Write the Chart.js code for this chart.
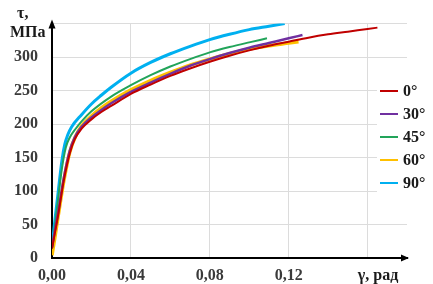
<!DOCTYPE html>
<html><head><meta charset="utf-8">
<script src="https://cdn.jsdelivr.net/npm/chart.js@4/dist/chart.umd.min.js"></script>
<style>html,body{margin:0;padding:0;background:#fff;}canvas{display:block;}</style>
</head><body>
<canvas id="c" width="433" height="284"></canvas>
<script>
// ---- data ----
const seriesLabels = ['0°', '30°', '45°', '60°', '90°'];
const seriesColors = ['#C00000', '#7030A0', '#22A45A', '#FFC000', '#00B0F0'];

const gamma0 = [0, 0.001, 0.003, 0.006, 0.009, 0.0115, 0.015, 0.020, 0.025, 0.030, 0.040, 0.050, 0.060, 0.070, 0.080, 0.090, 0.100, 0.110, 0.120, 0.130, 0.140, 0.150, 0.160, 0.165];
const tau0   = [14, 30, 62, 116, 156, 177, 193, 207, 218, 227, 245, 259, 272, 283, 293, 302, 310, 317, 323, 329, 334, 338, 342, 344];

const gamma30 = [0, 0.001, 0.003, 0.006, 0.009, 0.0115, 0.015, 0.020, 0.025, 0.030, 0.040, 0.050, 0.060, 0.070, 0.080, 0.090, 0.100, 0.110, 0.120, 0.127];
const tau30   = [16, 33, 66, 120, 160, 180, 196, 210, 221, 231, 248, 262, 275, 287, 297, 306, 314, 321, 328, 333];

const gamma45 = [0, 0.001, 0.003, 0.005, 0.007, 0.009, 0.012, 0.015, 0.020, 0.030, 0.040, 0.050, 0.060, 0.070, 0.080, 0.090, 0.100, 0.109];
const tau45   = [14, 36, 86, 133, 165, 180, 193, 204, 219, 241, 258, 273, 286, 297, 307, 315, 322, 328];

const gamma60 = [0, 0.001, 0.003, 0.006, 0.009, 0.012, 0.015, 0.020, 0.025, 0.030, 0.040, 0.050, 0.060, 0.070, 0.080, 0.090, 0.100, 0.110, 0.120, 0.125];
const tau60   = [4, 22, 60, 115, 158, 182, 197, 212, 224, 234, 251, 265, 277, 288, 297, 305, 312, 317, 321, 323];

const gamma90 = [0, 0.001, 0.003, 0.005, 0.0065, 0.008, 0.010, 0.015, 0.020, 0.025, 0.030, 0.040, 0.050, 0.060, 0.070, 0.080, 0.090, 0.100, 0.110, 0.118];
const tau90   = [14, 44, 95, 145, 170, 184, 196, 214, 230, 243, 255, 276, 292, 305, 316, 326, 334, 341, 346, 350];

const xTickValues = [0, 0.04, 0.08, 0.12, 0.16];
const xTickLabels = ['0,00', '0,04', '0,08', '0,12', ''];
const yTickValues = [0, 50, 100, 150, 200, 250, 300, 350];
const yTickLabels = ['0', '50', '100', '150', '200', '250', '300', ''];
const xAxisTitle = 'γ, рад';
const yAxisTitle = ['τ,', 'МПа'];

// ---- build ----
const gammas = [gamma0, gamma30, gamma45, gamma60, gamma90];
const taus = [tau0, tau30, tau45, tau60, tau90];
const widths = [2, 2.5, 2, 3.5, 3];

const datasets = seriesLabels.map((lab, i) => ({
  label: lab,
  data: gammas[i].map((g, k) => ({x: g, y: taus[i][k]})),
  borderColor: seriesColors[i],
  backgroundColor: seriesColors[i],
  borderWidth: widths[i],
  pointRadius: 0,
  fill: false,
  cubicInterpolationMode: 'monotone'
}));

const FONT = '"Liberation Serif", "Times New Roman", serif';

const extras = {
  id: 'extras',
  afterDraw(chart) {
    const ctx = chart.ctx;
    const a = chart.chartArea;
    ctx.save();
    // arrows
    ctx.fillStyle = '#000';
    ctx.beginPath();
    ctx.moveTo(a.left, a.top - 4);
    ctx.lineTo(a.left - 3.5, a.top + 5);
    ctx.lineTo(a.left + 3.5, a.top + 5);
    ctx.closePath(); ctx.fill();
    ctx.beginPath();
    ctx.moveTo(a.right + 2, a.bottom);
    ctx.lineTo(a.right - 6, a.bottom - 3.5);
    ctx.lineTo(a.right - 6, a.bottom + 3.5);
    ctx.closePath(); ctx.fill();
    // axis titles
    ctx.fillStyle = '#1a1a1a';
    ctx.font = 'bold 16px ' + FONT;
    ctx.textBaseline = 'alphabetic';
    ctx.textAlign = 'left';
    ctx.fillText(yAxisTitle[0], 17, 18);
    ctx.fillText(yAxisTitle[1], 10, 37);
    ctx.textAlign = 'center';
    ctx.fillText(xAxisTitle, 378, 280);
    // legend
    const lx = a.right - 30;
    ctx.fillStyle = '#fff';
    ctx.fillRect(lx, 76, 433 - lx, 128);
    chart.data.datasets.forEach((ds, i) => {
      const y = 91 + i * 23;
      ctx.strokeStyle = ds.borderColor;
      ctx.lineWidth = 2;
      ctx.beginPath();
      ctx.moveTo(lx + 3, y); ctx.lineTo(lx + 21, y); ctx.stroke();
      ctx.fillStyle = '#1a1a1a';
      ctx.textAlign = 'left';
      ctx.textBaseline = 'middle';
      ctx.fillText(ds.label, lx + 26, y + 1);
    });
    ctx.restore();
  }
};

new Chart(document.getElementById('c'), {
  type: 'line',
  data: {datasets},
  options: {
    responsive: false,
    animation: false,
    devicePixelRatio: 1,
    layout: {padding: {top: 23, right: 26, left: 0, bottom: 0}},
    plugins: {legend: {display: false}, tooltip: {enabled: false}},
    scales: {
      x: {
        type: 'linear', min: 0, max: 0.18,
        afterBuildTicks: s => { s.ticks = xTickValues.map(v => ({value: v})); },
        afterFit: s => { s.height = 26; },
        grid: {color: '#dcdcdc', lineWidth: 1, drawTicks: false},
        border: {color: '#000', width: 2},
        ticks: {
          padding: 8, maxRotation: 0, autoSkip: false,
          color: '#3a3a3a', font: {family: FONT, size: 16, weight: 'bold'},
          callback: (v) => { const i = xTickValues.findIndex(t => Math.abs(t - v) < 1e-9); return i >= 0 ? xTickLabels[i] : ''; }
        }
      },
      y: {
        type: 'linear', min: 0, max: 350,
        afterBuildTicks: s => { s.ticks = yTickValues.map(v => ({value: v})); },
        afterFit: s => { s.width = 52; },
        grid: {color: '#dcdcdc', lineWidth: 1, drawTicks: false},
        border: {color: '#000', width: 2},
        ticks: {
          padding: 14,
          color: '#3a3a3a', font: {family: FONT, size: 16, weight: 'bold'},
          callback: (v) => { const i = yTickValues.indexOf(v); return i >= 0 ? yTickLabels[i] : ''; }
        }
      }
    }
  },
  plugins: [extras]
});
</script>
</body></html>
